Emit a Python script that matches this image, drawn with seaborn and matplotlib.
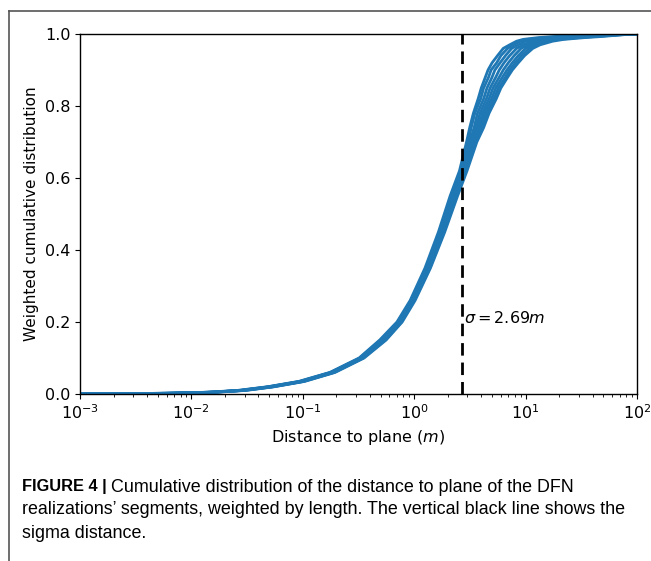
import matplotlib
matplotlib.use("Agg")
import matplotlib.pyplot as plt
import numpy as np
import pandas as pd
import seaborn as sns

# Weighted cumulative levels shared by every realization
cdf_levels = [0.0, 0.002, 0.005, 0.01, 0.02, 0.035, 0.06, 0.10, 0.15, 0.20,
              0.26, 0.35, 0.45, 0.55, 0.62, 0.70, 0.74, 0.78, 0.82, 0.85,
              0.88, 0.90, 0.92, 0.94, 0.96, 0.97, 0.98, 0.985, 0.99, 0.993,
              0.998, 1.0]

# Distance to plane (m) reached at each level, one list per DFN realization
real_1 = [0.001, 0.006, 0.014, 0.026, 0.048, 0.092, 0.175, 0.32, 0.49, 0.70,
          0.92, 1.25, 1.65, 2.10, 2.55, 2.95, 3.15, 3.40, 3.75, 4.00,
          4.35, 4.60, 5.00, 5.60, 6.30, 7.2, 8.3, 9.5, 13.0, 18.0, 45.0, 100.0]
real_2 = [0.001, 0.006, 0.015, 0.027, 0.049, 0.094, 0.178, 0.325, 0.50, 0.72,
          0.94, 1.28, 1.68, 2.15, 2.60, 3.05, 3.25, 3.50, 3.95, 4.20,
          4.65, 4.90, 5.50, 6.00, 6.90, 7.8, 9.0, 10.5, 15.0, 22.0, 50.0, 100.0]
real_3 = [0.001, 0.006, 0.015, 0.028, 0.050, 0.096, 0.180, 0.33, 0.51, 0.73,
          0.95, 1.30, 1.72, 2.20, 2.68, 3.15, 3.45, 3.70, 4.20, 4.50,
          5.00, 5.30, 5.90, 6.60, 7.50, 8.6, 10.0, 12.0, 17.0, 26.0, 55.0, 100.0]
real_4 = [0.001, 0.006, 0.015, 0.028, 0.051, 0.097, 0.183, 0.335, 0.52, 0.74,
          0.96, 1.32, 1.75, 2.25, 2.74, 3.25, 3.60, 3.90, 4.45, 4.80,
          5.40, 5.80, 6.40, 7.20, 8.30, 9.5, 11.5, 14.0, 20.0, 30.0, 60.0, 100.0]
real_5 = [0.001, 0.007, 0.016, 0.029, 0.052, 0.099, 0.186, 0.34, 0.53, 0.75,
          0.98, 1.34, 1.78, 2.30, 2.80, 3.35, 3.75, 4.10, 4.70, 5.10,
          5.80, 6.30, 7.00, 7.90, 9.10, 10.5, 13.0, 16.0, 24.0, 35.0, 65.0, 100.0]
real_6 = [0.001, 0.007, 0.016, 0.029, 0.053, 0.100, 0.189, 0.345, 0.54, 0.76,
          0.99, 1.36, 1.82, 2.35, 2.86, 3.45, 3.90, 4.30, 4.95, 5.40,
          6.20, 6.80, 7.60, 8.60, 10.0, 11.5, 14.5, 18.0, 27.0, 40.0, 70.0, 100.0]
real_7 = [0.001, 0.007, 0.016, 0.030, 0.054, 0.102, 0.192, 0.35, 0.55, 0.77,
          1.00, 1.38, 1.85, 2.40, 2.92, 3.55, 4.05, 4.50, 5.20, 5.70,
          6.60, 7.20, 8.10, 9.20, 10.8, 12.5, 16.0, 20.0, 30.0, 42.0, 72.0, 100.0]
real_8 = [0.001, 0.007, 0.017, 0.031, 0.055, 0.104, 0.195, 0.355, 0.56, 0.78,
          1.02, 1.40, 1.88, 2.45, 2.98, 3.65, 4.20, 4.70, 5.45, 6.00,
          6.90, 7.60, 8.60, 9.80, 11.6, 13.5, 17.5, 22.0, 34.0, 48.0, 75.0, 100.0]

realizations = [real_1, real_2, real_3, real_4, real_5, real_6, real_7, real_8]
sigma = 2.69

frames = []
for i, dist in enumerate(realizations):
    frames.append(pd.DataFrame({"distance": dist, "cdf": cdf_levels,
                                "realization": i}))
df = pd.concat(frames, ignore_index=True)

fig = plt.figure(figsize=(6.51, 5.61), dpi=100)
ax = fig.add_axes([80 / 651, 1 - 394 / 561, 557 / 651, 360 / 561])

sns.lineplot(data=df, x="distance", y="cdf", units="realization",
             estimator=None, sort=False, color="#1f77b4", linewidth=2.0,
             ax=ax, legend=False)

ax.set_xscale("log")
ax.set_xlim(1e-3, 1e2)
ax.set_ylim(0, 1.0)
ax.axvline(sigma, color="black", linestyle=(0, (4.5, 2.5)), linewidth=2.0)
ax.text(sigma * 1.04, 0.21, r"$\sigma = 2.69m$", fontsize=11.5,
        va="center", ha="left")

ax.set_xlabel(r"Distance to plane ($m$)", fontsize=11.5)
ax.set_ylabel("Weighted cumulative distribution", fontsize=11)
ax.tick_params(labelsize=11.5)
for s in ax.spines.values():
    s.set_linewidth(1.0)

# Page frame lines
fig.add_artist(plt.Line2D([9 / 651, 1.0], [1 - 11 / 561, 1 - 11 / 561],
                          color="#555555", linewidth=1.2,
                          transform=fig.transFigure))
fig.add_artist(plt.Line2D([9 / 651, 9 / 651], [1 - 11 / 561, 0.0],
                          color="#555555", linewidth=1.2,
                          transform=fig.transFigure))

# Caption
cap_font = "Liberation Sans"
cap_size = 12.9
y1 = 1 - 487 / 561
head = fig.text(22 / 651, y1, "FIGURE 4 |", fontsize=11.8,
                fontweight="bold", family=cap_font, va="center", ha="left")
fig.canvas.draw()
bb = head.get_window_extent(fig.canvas.get_renderer())
fig.text((bb.x1 + 4) / 651, y1,
         "Cumulative distribution of the distance to plane of the DFN",
         fontsize=cap_size, family=cap_font, va="center", ha="left")
fig.text(22 / 651, 1 - 510 / 561,
         "realizations\u2019 segments, weighted by length. The vertical black line shows the",
         fontsize=cap_size, family=cap_font, va="center", ha="left")
fig.text(22 / 651, 1 - 534 / 561, "sigma distance.", fontsize=cap_size,
         family=cap_font, va="center", ha="left")

fig.savefig("out.png", dpi=100)
